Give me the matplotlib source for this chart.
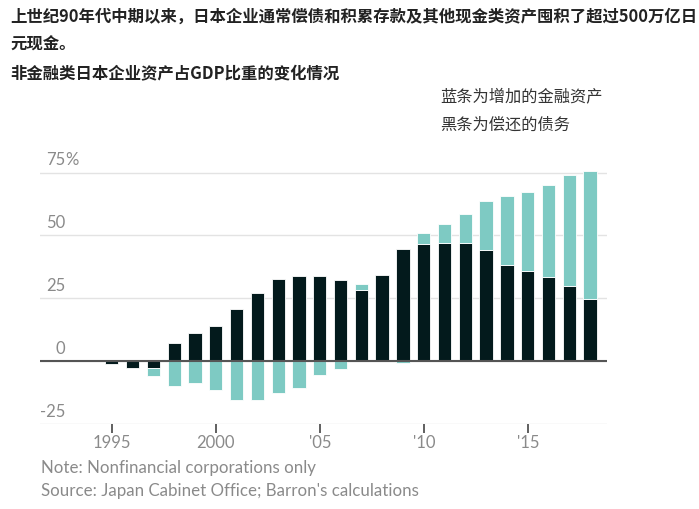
import matplotlib.pyplot as plt
import numpy as np

plt.rcParams['font.family'] = ['Noto Sans CJK SC', 'DejaVu Sans']

# values, % of GDP
years = list(range(1995, 2019))
debt_repaid = [-1.0, -2.8, -2.8, 7.3, 11.2, 14.1, 20.7, 27.1, 32.8, 33.8, 33.8, 32.4,
               28.1, 34.3, 44.5, 46.4, 46.8, 46.8, 44.1, 38.3, 35.9, 33.5, 29.8, 24.6]
fin_assets = [0.0, 0.6, -3.3, -10.0, -8.5, -11.4, -15.3, -15.3, -12.8, -10.5, -5.6, -3.3,
              2.4, 0.0, -0.9, 4.4, 7.9, 11.7, 19.7, 27.5, 31.3, 36.6, 44.3, 51.2]
ytick_vals = [-25, 0, 25, 50, 75]
xtick_vals = [1995, 2000, 2005, 2010, 2015]
xtick_labels = ['1995', '2000', "'05", "'10", "'15"]

DARK = '#031a1c'
TEAL = '#7ecac3'
GRAY = '#8a8a8a'
LATIN = ['Lato', 'DejaVu Sans']


def plot_chart():
    W, H = 699, 509
    fig = plt.figure(figsize=(W / 100, H / 100), dpi=100)
    # axes placed in pixel coords
    left, right, bottom, top = 40, 607, 424, 160
    ax = fig.add_axes([left / W, 1 - bottom / H, (right - left) / W, (bottom - top) / H])

    black = np.array(debt_repaid)
    teal = np.array(fin_assets)
    # teal stacks onto the black bar when both point the same way
    teal_base = np.where(np.sign(black) == np.sign(teal), black, 0)

    ax.bar(years, black, width=0.64, color=DARK, edgecolor='white', linewidth=0.6, zorder=3)
    ax.bar(years, teal, bottom=teal_base, width=0.64, color=TEAL, edgecolor='white',
           linewidth=0.6, zorder=3)

    ax.set_xlim(1991.55, 2018.81)
    ax.set_ylim(-25, 80)
    for v in ytick_vals:
        ax.axhline(v, color='#e3e3e3', linewidth=1, zorder=1)
    ax.axhline(0, color='#555555', linewidth=1.5, zorder=4)

    for s in ax.spines.values():
        s.set_visible(False)
    ax.set_yticks([])
    ax.set_xticks(xtick_vals)
    ax.set_xticklabels(xtick_labels, fontsize=12, color=GRAY, family=LATIN)
    ax.tick_params(axis='x', length=6.5, width=1.2, color='#444444', pad=1.5)

    # y labels sit just above their gridlines
    for v in ytick_vals:
        ax.annotate(str(v), xy=(0, v), xycoords=('axes fraction', 'data'),
                    xytext=(18, 3), textcoords='offset points', ha='right', va='bottom',
                    fontsize=12, color=GRAY, family=LATIN)
    ax.annotate('%', xy=(0, 75), xycoords=('axes fraction', 'data'),
                xytext=(18, 3), textcoords='offset points', ha='left', va='bottom',
                fontsize=12, color=GRAY, family=LATIN)

    fig.text(10 / W, 1 - 17 / H, '上世纪90年代中期以来，日本企业通常偿债和积累存款及其他现金类资产囤积了超过500万亿日',
             fontsize=11.8, fontweight='bold', color='#222222', va='center')
    fig.text(10 / W, 1 - 45 / H, '元现金。', fontsize=11.8, fontweight='bold', color='#222222', va='center')
    fig.text(10 / W, 1 - 74 / H, '非金融类日本企业资产占GDP比重的变化情况',
             fontsize=11.8, fontweight='bold', color='#222222', va='center')
    fig.text(440 / W, 1 - 97 / H, '蓝条为增加的金融资产', fontsize=11.7, color='#333333', va='center')
    fig.text(440 / W, 1 - 125 / H, '黑条为偿还的债务', fontsize=11.7, color='#333333', va='center')

    fig.text(41 / W, 1 - 468 / H, 'Note: Nonfinancial corporations only', fontsize=12.2, color=GRAY,
             va='center', family=LATIN)
    fig.text(41 / W, 1 - 491 / H, "Source: Japan Cabinet Office; Barron's calculations", fontsize=12.2,
             color=GRAY, va='center', family=LATIN)

    fig.savefig('out.png', dpi=100)


if __name__ == "__main__":
    plot_chart()
